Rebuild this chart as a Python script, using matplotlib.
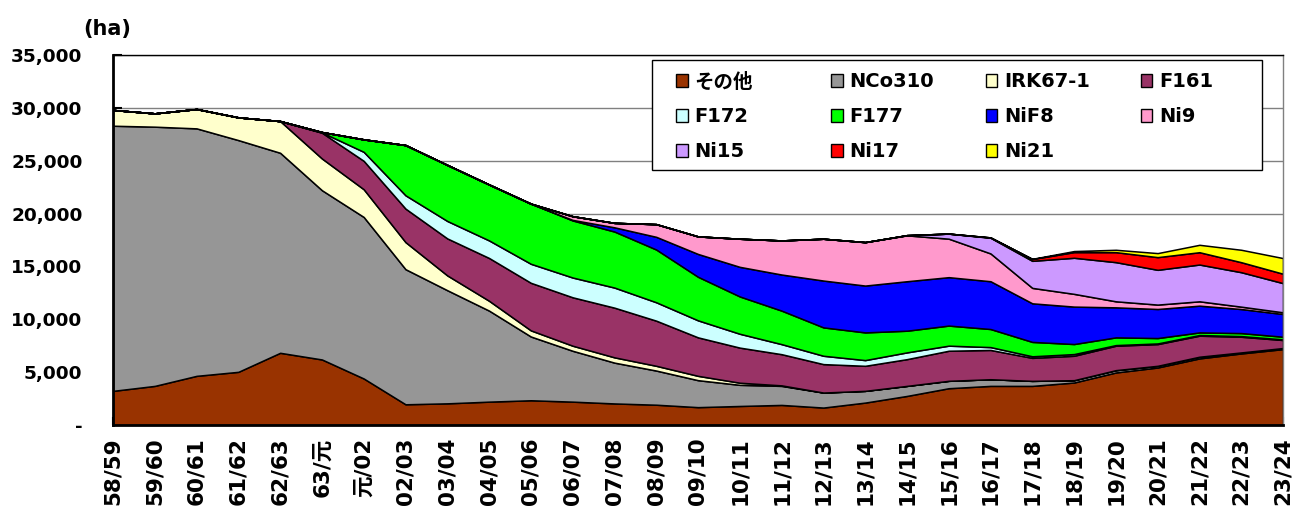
import matplotlib
matplotlib.use("Agg")
import matplotlib.pyplot as plt
from matplotlib.patches import Patch, Rectangle

plt.rcParams['font.family'] = ['DejaVu Sans', 'Noto Sans CJK JP']
plt.rcParams['font.weight'] = 'bold'

# crop years (昭和58/59 ... 令和5/6)
years = ["58/59", "59/60", "60/61", "61/62", "62/63", "63/元", "元/02", "02/03",
         "03/04", "04/05", "05/06", "06/07", "07/08", "08/09", "09/10", "10/11",
         "11/12", "12/13", "13/14", "14/15", "15/16", "16/17", "17/18", "18/19",
         "19/20", "20/21", "21/22", "22/23", "23/24"]

# area by variety (ha)
sonota = [3230, 3700, 4650, 5030, 6830, 6200, 4400, 1960, 2050, 2210, 2340, 2210, 2040, 1920,
          1690, 1800, 1900, 1650, 2120, 2750, 3480, 3700, 3700, 4020, 4970, 5440, 6300, 6770, 7180]
nco310 = [25080, 24520, 23410, 21920, 18920, 16010, 15280, 12780, 10700, 8610, 6030, 4810, 3860, 3230,
          2550, 2000, 1800, 1420, 1110, 950, 700, 630, 475, 220, 220, 160, 160, 95, 100]
irk67 = [1490, 1260, 1830, 2150, 3000, 3000, 2620, 2560, 1400, 930, 580, 480, 500, 450,
         410, 200, 50, 0, 0, 0, 0, 0, 0, 0, 0, 0, 0, 0, 0]
f161 = [0, 0, 0, 0, 0, 2440, 2690, 3170, 3500, 4050, 4500, 4580, 4700, 4270,
        3640, 3320, 2950, 2690, 2370, 2530, 2845, 2770, 2175, 2310, 2310, 2055, 1990, 1485, 760]
f172 = [0, 0, 0, 0, 0, 30, 850, 1260, 1650, 1660, 1800, 1870, 1900, 1740,
        1610, 1310, 950, 790, 540, 640, 480, 270, 150, 160, 60, 60, 60, 60, 60]
f177 = [0, 0, 0, 0, 0, 30, 1180, 4750, 5300, 5290, 5690, 5400, 5300, 4990,
        4120, 3530, 3170, 2685, 2620, 2050, 1900, 1710, 1360, 950, 730, 510, 250, 285, 250]
nif8 = [0, 0, 0, 0, 0, 0, 0, 0, 0, 0, 0, 50, 400, 1200,
        2160, 2800, 3415, 4430, 4430, 4680, 4580, 4520, 3650, 3540, 2840, 2750, 2530, 2275, 2150]
ni9 = [0, 0, 0, 0, 0, 0, 0, 0, 0, 0, 0, 350, 420, 1200,
       1660, 2660, 3225, 3955, 4110, 4340, 3640, 2630, 1460, 1205, 570, 415, 410, 225, 160]
ni15 = [0] * 19 + [20, 480, 1485, 2560, 3415, 3705, 3290, 3480, 3260, 2760]
ni17 = [0] * 21 + [30, 170, 535, 945, 1200, 1165, 945, 890]
ni21 = [0] * 22 + [20, 100, 225, 380, 700, 1175, 1480]

labels = ["その他", "NCo310", "IRK67-1", "F161", "F172", "F177",
          "NiF8", "Ni9", "Ni15", "Ni17", "Ni21"]
colors = ["#993300", "#969696", "#FFFFCC", "#993366", "#CCFFFF", "#00FF00",
          "#0000FF", "#FF99CC", "#CC99FF", "#FF0000", "#FFFF00"]
series = [sonota, nco310, irk67, f161, f172, f177, nif8, ni9, ni15, ni17, ni21]

yticks = [0, 5000, 10000, 15000, 20000, 25000, 30000, 35000]
ytick_labels = ["-", "5,000", "10,000", "15,000", "20,000", "25,000", "30,000", "35,000"]

fig = plt.figure(figsize=(13.05, 5.16), dpi=100)
ax = fig.add_axes([113 / 1305, 1 - 425 / 516, 1170 / 1305, 370 / 516])

x = list(range(len(years)))
ax.stackplot(x, *series, colors=colors, edgecolor="black", linewidth=1.1, zorder=2)

ax.set_xlim(0, len(years) - 1)
ax.set_ylim(0, 35000)
ax.set_xticks(x)
ax.set_xticklabels(years, rotation=90, fontsize=15.5, fontweight="bold")
ax.set_yticks(yticks)
ax.set_yticklabels(ytick_labels, fontsize=13.3, fontweight="bold")
ax.tick_params(axis="x", direction="in", length=6, width=1.5, pad=9)
ax.tick_params(axis="y", direction="in", length=6.5, width=1.5, pad=22)

ax.grid(axis="y", color="#808080", linewidth=1)
ax.set_axisbelow(True)
for s in ["left", "bottom"]:
    ax.spines[s].set_linewidth(2)
    ax.spines[s].set_color("black")
ax.spines["top"].set_linewidth(1)
ax.spines["top"].set_color("black")
ax.spines["right"].set_linewidth(1)
ax.spines["right"].set_color("#808080")
for s in ax.spines.values():
    s.set_zorder(5)

# legend box (Excel style, fixed column width), filled row by row
ax.add_patch(Rectangle((0.4607, 0.6892), 0.5214, 0.2973, transform=ax.transAxes,
                       facecolor="white", edgecolor="black", linewidth=1,
                       zorder=9, clip_on=False))
handles = [Patch(facecolor=c, edgecolor="black", linewidth=1) for c in colors]
order = [0, 4, 8, 1, 5, 9, 2, 6, 10, 3, 7]
leg = ax.legend([handles[i] for i in order], [labels[i] for i in order],
                ncol=4, loc="upper left", bbox_to_anchor=(0.4812, 0.953),
                borderaxespad=0, prop={"weight": "bold", "size": 14},
                frameon=False, handlelength=0.6, handleheight=0.6,
                handletextpad=0.35, columnspacing=2.6, labelspacing=0.82,
                borderpad=0)
leg._legend_handle_box.mode = "equal"
leg.set_zorder(10)

fig.text(107 / 1305, 1 - 29 / 516, "(ha)", ha="center", va="center",
         fontsize=15, fontweight="bold")

fig.savefig("out.png", dpi=100)
